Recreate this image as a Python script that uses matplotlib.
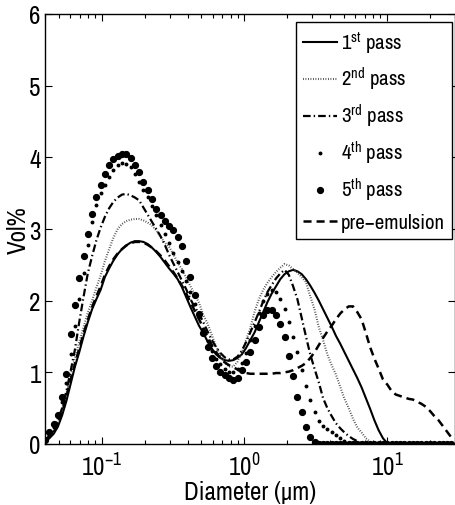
import matplotlib
matplotlib.use("Agg")
import matplotlib.pyplot as plt
from matplotlib import font_manager

# procura uma fonte estreita (parecida com a do MATLAB); senão usa Liberation Sans
estreitas = sorted({f.name for f in font_manager.fontManager.ttflist
                    if 'Narrow' in f.name or 'Condensed' in f.name})
fonte = estreitas[0] if estreitas else 'Liberation Sans'
plt.rcParams['font.family'] = [fonte, 'Liberation Sans', 'DejaVu Sans']
plt.rcParams['mathtext.fontset'] = 'custom'
plt.rcParams['mathtext.rm'] = fonte
plt.rcParams['mathtext.it'] = fonte
plt.rcParams['mathtext.default'] = 'rm'
plt.rcParams['lines.scale_dashes'] = False
estreita = bool(estreitas)

# canais de diametro (um)
diametro = [0.04000, 0.04286, 0.04592, 0.04921, 0.05273, 0.05650, 0.06054, 0.06487, 0.06951, 0.07448,
            0.07981, 0.08552, 0.09163, 0.09818, 0.1052, 0.1127, 0.1208, 0.1294, 0.1387, 0.1486,
            0.1592, 0.1706, 0.1828, 0.1959, 0.2099, 0.2249, 0.2410, 0.2583, 0.2767, 0.2965,
            0.3177, 0.3405, 0.3648, 0.3909, 0.4189, 0.4488, 0.4809, 0.5153, 0.5522, 0.5917,
            0.6340, 0.6793, 0.7279, 0.7800, 0.8358, 0.8955, 0.9596, 1.028, 1.102, 1.181,
            1.265, 1.355, 1.452, 1.556, 1.667, 1.787, 1.914, 2.051, 2.198, 2.355,
            2.524, 2.704, 2.898, 3.105, 3.327, 3.565, 3.820, 4.093, 4.386, 4.700,
            5.036, 5.396, 5.782, 6.195, 6.638, 7.113, 7.622, 8.167, 8.751, 9.377,
            10.05, 10.77, 11.54, 12.36, 13.25, 14.19, 15.21, 16.30, 17.46, 18.71,
            20.05, 21.48, 23.02, 24.67, 26.43, 28.32]

passe1 = [0.03, 0.08, 0.14, 0.24, 0.40, 0.60, 0.84, 1.08, 1.28, 1.50,
          1.70, 1.88, 2.02, 2.15, 2.33, 2.45, 2.56, 2.65, 2.72, 2.77,
          2.81, 2.83, 2.83, 2.82, 2.79, 2.74, 2.68, 2.61, 2.53, 2.45,
          2.38, 2.30, 2.19, 2.05, 1.91, 1.78, 1.65, 1.55, 1.43, 1.33,
          1.25, 1.20, 1.17, 1.16, 1.17, 1.20, 1.25, 1.34, 1.45, 1.56,
          1.70, 1.84, 1.98, 2.10, 2.20, 2.30, 2.37, 2.41, 2.43, 2.41,
          2.37, 2.30, 2.21, 2.11, 2.00, 1.88, 1.76, 1.64, 1.51, 1.40,
          1.28, 1.16, 1.04, 0.92, 0.79, 0.64, 0.49, 0.33, 0.19, 0.08,
          0.01, 0, 0, 0, 0, 0, 0, 0, 0, 0,
          0, 0, 0, 0, 0, 0]

passe2 = [0.04, 0.10, 0.18, 0.30, 0.48, 0.70, 0.96, 1.20, 1.42, 1.63,
          1.83, 2.00, 2.18, 2.35, 2.55, 2.72, 2.88, 3.00, 3.07, 3.11,
          3.13, 3.14, 3.14, 3.12, 3.09, 3.05, 2.98, 2.89, 2.81, 2.75,
          2.65, 2.53, 2.44, 2.32, 2.20, 2.09, 1.97, 1.80, 1.68, 1.52,
          1.36, 1.23, 1.13, 1.08, 1.08, 1.15, 1.28, 1.45, 1.62, 1.85,
          2.02, 2.15, 2.25, 2.33, 2.40, 2.46, 2.51, 2.49, 2.44, 2.39,
          2.33, 2.26, 2.06, 1.88, 1.63, 1.45, 1.25, 1.10, 0.97, 0.80,
          0.63, 0.50, 0.35, 0.23, 0.16, 0.08, 0.03, 0, 0, 0,
          0, 0, 0, 0, 0, 0, 0, 0, 0, 0,
          0, 0, 0, 0, 0, 0]

passe3 = [0.04, 0.12, 0.21, 0.33, 0.50, 0.74, 1.02, 1.32, 1.70, 2.05,
          2.38, 2.62, 2.84, 3.02, 3.17, 3.29, 3.38, 3.44, 3.48, 3.49,
          3.47, 3.44, 3.40, 3.30, 3.20, 3.10, 3.00, 2.90, 2.78, 2.64,
          2.52, 2.40, 2.28, 2.16, 2.02, 1.91, 1.82, 1.70, 1.57, 1.45,
          1.35, 1.27, 1.21, 1.18, 1.18, 1.22, 1.30, 1.42, 1.56, 1.70,
          1.84, 1.99, 2.12, 2.22, 2.31, 2.38, 2.43, 2.36, 2.20, 2.02,
          1.76, 1.50, 1.25, 1.05, 0.86, 0.64, 0.50, 0.39, 0.29, 0.22,
          0.16, 0.11, 0.07, 0.04, 0.01, 0, 0, 0, 0, 0,
          0, 0, 0, 0, 0, 0, 0, 0, 0, 0,
          0, 0, 0, 0, 0, 0]

passe4 = [0.05, 0.14, 0.24, 0.37, 0.58, 0.85, 1.25, 1.65, 2.02, 2.38,
          2.78, 3.10, 3.33, 3.50, 3.62, 3.73, 3.83, 3.89, 3.92, 3.91,
          3.86, 3.77, 3.66, 3.55, 3.44, 3.32, 3.19, 3.06, 2.93, 2.80,
          2.67, 2.54, 2.41, 2.28, 2.12, 1.95, 1.77, 1.60, 1.44, 1.30,
          1.19, 1.11, 1.05, 1.01, 1.00, 1.04, 1.13, 1.27, 1.45, 1.64,
          1.83, 1.99, 2.10, 2.15, 2.12, 2.03, 1.88, 1.70, 1.50, 1.28,
          1.03, 0.81, 0.62, 0.45, 0.32, 0.25, 0.21, 0.17, 0.12, 0.08,
          0.04, 0.01, 0, 0, 0, 0, 0, 0, 0, 0,
          0, 0, 0, 0, 0, 0, 0, 0, 0, 0,
          0, 0, 0, 0, 0, 0]

passe5 = [0.05, 0.17, 0.28, 0.41, 0.66, 0.97, 1.53, 1.94, 2.32, 2.62,
          2.93, 3.21, 3.45, 3.62, 3.77, 3.89, 3.97, 4.02, 4.05, 4.04,
          3.99, 3.90, 3.79, 3.66, 3.55, 3.42, 3.28, 3.19, 3.11, 3.04,
          2.98, 2.89, 2.76, 2.56, 2.33, 2.08, 1.81, 1.55, 1.36, 1.20,
          1.09, 1.01, 0.96, 0.92, 0.90, 0.92, 1.03, 1.15, 1.28, 1.45,
          1.63, 1.80, 1.87, 1.87, 1.80, 1.68, 1.50, 1.23, 0.95, 0.66,
          0.45, 0.24, 0.10, 0.03, 0, 0, 0, 0, 0, 0,
          0, 0, 0, 0, 0, 0, 0, 0, 0, 0,
          0, 0, 0, 0, 0, 0, 0, 0, 0, 0,
          0, 0, 0, 0, 0, 0]

pre_emulsao = [0.03, 0.09, 0.16, 0.28, 0.44, 0.66, 0.90, 1.12, 1.33, 1.54,
               1.73, 1.91, 2.06, 2.20, 2.36, 2.48, 2.58, 2.66, 2.72, 2.77,
               2.80, 2.82, 2.82, 2.81, 2.78, 2.74, 2.69, 2.63, 2.56, 2.48,
               2.40, 2.31, 2.21, 2.10, 1.98, 1.86, 1.74, 1.62, 1.50, 1.38,
               1.28, 1.20, 1.14, 1.10, 1.07, 1.04, 1.01, 0.99, 0.98, 0.98,
               0.98, 0.98, 0.98, 0.98, 0.99, 0.99, 1.00, 1.01, 1.03, 1.06,
               1.09, 1.13, 1.20, 1.28, 1.38, 1.48, 1.57, 1.65, 1.74, 1.82,
               1.88, 1.92, 1.92, 1.84, 1.74, 1.55, 1.35, 1.19, 1.05, 0.90,
               0.83, 0.74, 0.69, 0.67, 0.65, 0.63, 0.62, 0.59, 0.56, 0.52,
               0.46, 0.39, 0.33, 0.25, 0.17, 0.09]

nomes_legenda = [r'1$^{\mathrm{st}}$ pass', r'2$^{\mathrm{nd}}$ pass', r'3$^{\mathrm{rd}}$ pass',
                 r'4$^{\mathrm{th}}$ pass', r'5$^{\mathrm{th}}$ pass', 'pre\u2212emulsion']


def plotar_grafico():
    fig = plt.figure(figsize=(4.55, 5.06), dpi=100)
    ax = fig.add_axes([45 / 455, 61 / 506, 410 / 455, 430 / 506])

    ax.plot(diametro, passe1, color='k', linestyle='-', linewidth=1.5, label=nomes_legenda[0])
    l2, = ax.plot(diametro, passe2, color='#444444', linestyle=':', linewidth=1.5, label=nomes_legenda[1])
    l2.set_dashes([0.6, 1.2])
    l3, = ax.plot(diametro, passe3, color='k', linestyle='-.', linewidth=1.6, label=nomes_legenda[2])
    l3.set_dashes([5.5, 2.2, 1.0, 2.2])
    ax.plot(diametro, passe4, color='k', linestyle='none', marker='o', markersize=1.8, label=nomes_legenda[3])
    ax.plot(diametro, passe5, color='k', linestyle='none', marker='o', markersize=4.2, label=nomes_legenda[4])
    l6, = ax.plot(diametro, pre_emulsao, color='k', linestyle='--', linewidth=1.8, label=nomes_legenda[5])
    l6.set_dashes([5.8, 3.6])

    tam_tick = 18 if estreita else 14
    tam_leg = 15 if estreita else 12

    ax.set_xscale('log')
    ax.set_xlim(0.04, 30)
    ax.set_ylim(0, 6)
    ax.set_yticks([0, 1, 2, 3, 4, 5, 6])
    ax.tick_params(which='both', direction='in', top=True, right=True, labelsize=tam_tick)
    ax.tick_params(axis='x', pad=6)
    ax.tick_params(axis='y', pad=3)
    ax.tick_params(which='major', length=5, width=0.8)
    ax.tick_params(which='minor', length=3, width=0.8)
    for s in ax.spines.values():
        s.set_linewidth(1.0)

    ax.set_xlabel('Diameter (\u03bcm)', fontsize=tam_tick)
    ax.set_ylabel('Vol%', fontsize=tam_tick)
    ax.xaxis.set_label_coords(0.5, -0.083)
    ax.yaxis.set_label_coords(-0.038, 0.5)

    leg = ax.legend(loc='upper right', bbox_to_anchor=(0.993, 0.981), fontsize=tam_leg,
                    frameon=True, fancybox=False, handlelength=1.6, handletextpad=0.2,
                    labelspacing=0.47, borderpad=0.35, borderaxespad=0, numpoints=1)
    leg.get_frame().set_edgecolor('k')
    leg.get_frame().set_linewidth(1.0)
    leg.get_frame().set_alpha(1)

    fig.savefig('out.png', dpi=100)


if __name__ == "__main__":
    plotar_grafico()
